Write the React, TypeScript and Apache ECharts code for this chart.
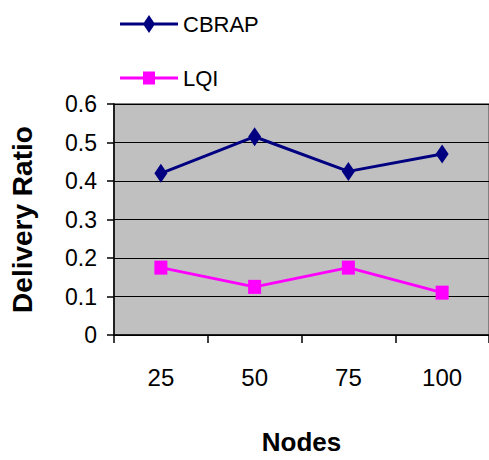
import React, { useEffect, useRef } from "react";
import * as echarts from "echarts";

const categories = ["25", "50", "75", "100"];
const cbrapValues = [0.42, 0.515, 0.425, 0.47];
const lqiValues = [0.175, 0.125, 0.175, 0.11];
const seriesNames = ["CBRAP", "LQI"];
const xTitle = "Nodes";
const yTitle = "Delivery Ratio";

const FONT = "'Liberation Sans', Arial, sans-serif";

export default function App() {
  const ref = useRef<HTMLDivElement>(null);
  useEffect(() => {
    if (!ref.current) return;
    const chart = echarts.init(ref.current, null, { renderer: "svg" });
    chart.setOption({
      animation: false,
      backgroundColor: "#ffffff",
      textStyle: { fontFamily: FONT },
      legend: {
        orient: "vertical",
        left: 115,
        top: 8,
        itemWidth: 58,
        itemHeight: 18,
        itemGap: 32,
        textStyle: { fontSize: 22, color: "#000", fontFamily: FONT },
        data: [
          { name: seriesNames[0], icon: "path://M0 7.5H58V10.5H0Z M23 9L29 0L35 9L29 18Z" },
          { name: seriesNames[1], icon: "path://M0 7.5H58V10.5H0Z M23 2.5H35V15.5H23Z" },
        ],
      },
      grid: {
        left: 108,
        top: 104,
        right: -5,
        bottom: 118,
        show: true,
        backgroundColor: "#C0C0C0",
        borderColor: "#808080",
        borderWidth: 2,
        containLabel: false,
      },
      xAxis: {
        type: "category",
        data: categories,
        boundaryGap: true,
        name: xTitle,
        nameLocation: "middle",
        nameGap: 94,
        nameTextStyle: { fontSize: 26, fontWeight: "bold", color: "#000", fontFamily: FONT },
        axisLine: { lineStyle: { color: "#000", width: 1.5 } },
        axisTick: { show: true, length: 8, lineStyle: { color: "#000", width: 1.5 } },
        axisLabel: { fontSize: 24, color: "#000", margin: 30, fontFamily: FONT },
        splitLine: { show: false },
      },
      yAxis: {
        type: "value",
        min: 0,
        max: 0.6,
        interval: 0.1,
        name: yTitle,
        nameLocation: "middle",
        nameRotate: 90,
        nameGap: 78,
        nameTextStyle: { fontSize: 28, fontWeight: "bold", color: "#000", fontFamily: FONT },
        axisLine: { show: true, lineStyle: { color: "#000", width: 1.5 } },
        axisTick: { show: true, length: 7, lineStyle: { color: "#000", width: 1.5 } },
        axisLabel: { fontSize: 23, color: "#000", margin: 17, fontFamily: FONT },
        splitLine: { show: true, lineStyle: { color: "#000", width: 1 } },
      },
      series: [
        {
          name: seriesNames[0],
          type: "line",
          data: cbrapValues,
          color: "#000080",
          symbol: "diamond",
          symbolSize: [13, 19],
          lineStyle: { color: "#000080", width: 3 },
          itemStyle: { color: "#000080" },
        },
        {
          name: seriesNames[1],
          type: "line",
          data: lqiValues,
          color: "#FF00FF",
          symbol: "rect",
          symbolSize: [13, 14],
          lineStyle: { color: "#FF00FF", width: 3 },
          itemStyle: { color: "#FF00FF" },
        },
      ],
    });
    return () => chart.dispose();
  }, []);
  return (
    <div
      ref={ref}
      style={{ position: "absolute", left: 0, top: 0, width: 489, height: 460 }}
    />
  );
}
